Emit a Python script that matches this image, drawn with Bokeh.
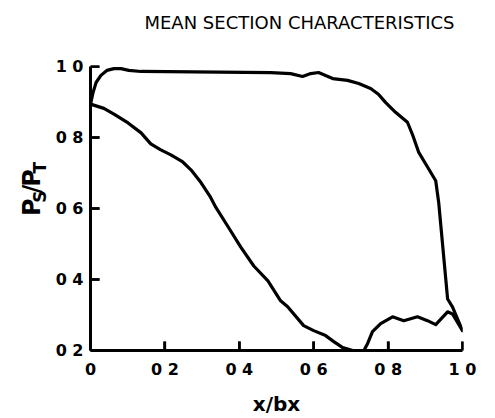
from bokeh.core.properties import value
from bokeh.embed import file_html
from bokeh.layouts import column, row
from bokeh.models import ColumnDataSource, FixedTicker, Range1d
from bokeh.plotting import figure
from bokeh.resources import INLINE
import math

# Static pressure ratio along the mean section, two surfaces
upper_x = [0.0, 0.007, 0.015, 0.028, 0.044, 0.063, 0.082, 0.103, 0.136, 0.485,
           0.538, 0.570, 0.592, 0.613, 0.651, 0.691, 0.721, 0.753, 0.774, 0.793,
           0.820, 0.852, 0.866, 0.882, 0.906, 0.928, 0.936, 0.960, 0.973, 1.0]
upper_y = [0.894, 0.927, 0.955, 0.975, 0.989, 0.994, 0.994, 0.989, 0.986, 0.983,
           0.980, 0.972, 0.980, 0.983, 0.966, 0.961, 0.952, 0.938, 0.922, 0.899,
           0.871, 0.843, 0.807, 0.759, 0.717, 0.678, 0.617, 0.345, 0.323, 0.256]

lower_x = [0.0, 0.036, 0.063, 0.101, 0.136, 0.162, 0.189, 0.216, 0.248, 0.270,
           0.297, 0.323, 0.337, 0.369, 0.404, 0.439, 0.477, 0.511, 0.530, 0.573,
           0.600, 0.632, 0.654, 0.678, 0.705, 0.732, 0.745, 0.758, 0.780, 0.812,
           0.842, 0.879, 0.906, 0.928, 0.960, 0.973, 1.0]
lower_y = [0.894, 0.882, 0.866, 0.841, 0.813, 0.782, 0.765, 0.751, 0.731, 0.709,
           0.673, 0.631, 0.603, 0.550, 0.491, 0.438, 0.396, 0.340, 0.323, 0.270,
           0.256, 0.242, 0.225, 0.208, 0.200, 0.194, 0.220, 0.253, 0.276, 0.295,
           0.284, 0.295, 0.284, 0.273, 0.309, 0.303, 0.256]

x_ticks = [0.0, 0.2, 0.4, 0.6, 0.8, 1.0]
x_tick_labels = ["0", "0 2", "0 4", "0 6", "0 8", "1 0"]
y_ticks = [0.2, 0.4, 0.6, 0.8, 1.0]
y_tick_labels = ["0 2", "0 4", "0 6", "0 8", "1 0"]

title_text = "MEAN SECTION CHARACTERISTICS"
x_label = "x/bx"
# y caption P_S/P_T: (text, is_subscript)
y_label_parts = [("P", False), ("S", True), ("/", False), ("P", False), ("T", True)]

FONT = "DejaVu Sans"
W, H = 495, 418
TOP_H = 44          # strip above the plot carrying the title
CAP_W = 50          # strip on the left carrying the rotated y caption
X0, X1 = 0.0, 1.0
Y0, Y1 = 0.2, 1.0
FRAME_W, FRAME_H = 372, 286
TICK_PX = 9


def blank_strip(w, h):
    f = figure(width=w, height=h, output_backend="svg", toolbar_location=None,
               x_range=Range1d(0, w), y_range=Range1d(0, h),
               x_axis_type=None, y_axis_type=None, min_border=0)
    f.grid.visible = False
    f.outline_line_color = None
    f.border_fill_color = "white"
    f.background_fill_color = "white"
    return f


p = figure(width=W - CAP_W, height=H - TOP_H, output_backend="svg",
           toolbar_location=None,
           x_range=Range1d(X0, X1), y_range=Range1d(Y0, Y1),
           min_border_left=90 - CAP_W, min_border_right=W - 90 - FRAME_W,
           min_border_top=66 - TOP_H, min_border_bottom=66)
p.title.text = ""
p.grid.visible = False
p.outline_line_color = None
p.background_fill_color = "white"
p.border_fill_color = "white"

for ax, ticks, labels in ((p.xaxis[0], x_ticks, x_tick_labels),
                          (p.yaxis[0], y_ticks, y_tick_labels)):
    ax.ticker = FixedTicker(ticks=ticks)
    ax.major_label_overrides = dict(zip(ticks, labels))
    ax.axis_line_width = 3
    ax.axis_line_color = "black"
    ax.major_tick_line_width = 2.5
    ax.major_tick_line_color = "black"
    ax.major_tick_in = 9
    ax.major_tick_out = 0
    ax.minor_tick_line_color = None
    ax.major_label_text_font = FONT
    ax.major_label_text_font_style = "bold"
    ax.major_label_text_font_size = "16px"
    ax.major_label_text_color = "black"

p.xaxis.major_label_standoff = 9
p.yaxis.major_label_standoff = 7
p.xaxis.axis_label = x_label
p.xaxis.axis_label_text_font = FONT
p.xaxis.axis_label_text_font_style = "bold"
p.xaxis.axis_label_text_font_size = "20px"
p.xaxis.axis_label_text_color = "black"
p.xaxis.axis_label_standoff = 10

for xs, ys in ((upper_x, upper_y), (lower_x, lower_y)):
    p.line(xs, ys, line_color="black", line_width=3.2, line_join="round", line_cap="round")

# inward tick marks drawn as short segments from the axes into the plot
dx = TICK_PX * (X1 - X0) / FRAME_W
dy = TICK_PX * (Y1 - Y0) / FRAME_H
tx = [t for t in x_ticks if t > X0]
ty = [t for t in y_ticks if t > Y0]
p.segment(x0=tx, y0=[Y0] * len(tx), x1=tx, y1=[Y0 + dy] * len(tx),
          line_color="black", line_width=2.5)
p.segment(x0=[X0] * len(ty), y0=ty, x1=[X0 + dx] * len(ty), y1=ty,
          line_color="black", line_width=2.5)

# title strip
top = blank_strip(W, TOP_H)
top.text(x=[299], y=[TOP_H - 22], text=[title_text], text_align="center",
         text_baseline="middle", text_font=value(FONT), text_font_size="18px",
         text_color="black")

# left strip: rotated caption with subscripts
cap = blank_strip(CAP_W, H - TOP_H)
widths = {"P": 0.733, "S": 0.720, "/": 0.365, "T": 0.682}
pos = H - 241.0
for ch, sub in y_label_parts:
    size = 17 if sub else 24
    base = 39 if sub else 31
    src = ColumnDataSource(dict(x=[base], y=[pos], t=[ch]))
    cap.text(x="x", y="y", text="t", source=src, angle=math.pi / 2,
             text_align="left", text_baseline="alphabetic",
             text_font=value(FONT), text_font_style="bold",
             text_font_size=f"{size}px", text_color="black")
    pos += widths[ch] * size

layout = column(top, row(cap, p, spacing=0), spacing=0)
open("out.html", "w").write(file_html(layout, INLINE))
